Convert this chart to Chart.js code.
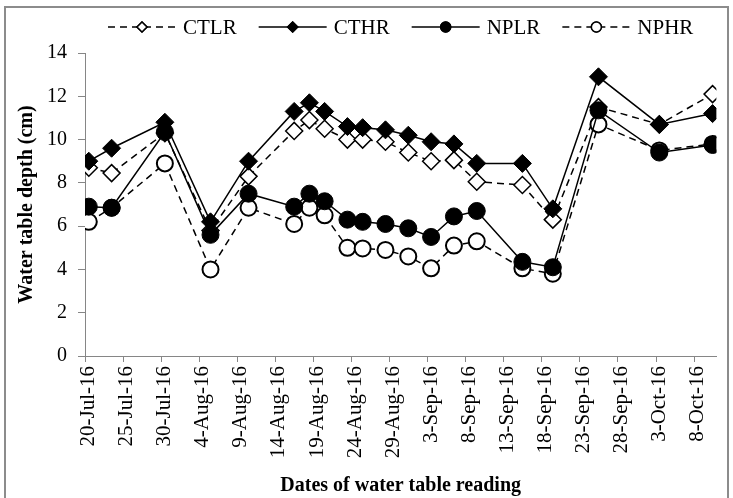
<!DOCTYPE html>
<html>
<head>
<meta charset="utf-8">
<script src="https://cdn.jsdelivr.net/npm/chart.js@4.4.0/dist/chart.umd.min.js"></script>
<style>
  html, body { margin: 0; padding: 0; background: #fff; }
  #wrap { width: 733px; height: 498px; position: relative; }
</style>
</head>
<body>
<div id="wrap"><canvas id="chart"></canvas></div>
<script>
// reading dates, as days after 20-Jul-16
const readingDays = [0, 3, 10, 16, 21, 27, 29, 31, 34, 36, 39, 42, 45, 48, 51, 57, 61, 67, 75, 82];

const ctlr = [8.7, 8.45, 10.3, 5.8, 8.3, 10.4, 10.9, 10.5, 10.0, 10.0, 9.9, 9.4, 9.0, 9.05, 8.05, 7.9, 6.3, 11.5, 10.7, 12.1];
const cthr = [9.0, 9.6, 10.8, 6.2, 9.0, 11.3, 11.7, 11.3, 10.6, 10.55, 10.45, 10.2, 9.9, 9.8, 8.9, 8.9, 6.8, 12.9, 10.7, 11.2];
const nplr = [6.9, 6.85, 10.35, 5.6, 7.5, 6.9, 7.5, 7.15, 6.3, 6.2, 6.1, 5.9, 5.5, 6.45, 6.7, 4.35, 4.1, 11.35, 9.4, 9.75];
const nphr = [6.2, 6.85, 8.9, 4.0, 6.85, 6.1, 6.85, 6.5, 5.0, 4.97, 4.9, 4.6, 4.05, 5.1, 5.3, 4.05, 3.8, 10.7, 9.5, 9.8];

const tickDays = [0, 5, 10, 15, 20, 25, 30, 35, 40, 45, 50, 55, 60, 65, 70, 75, 80];
const tickLabels = ['20-Jul-16', '25-Jul-16', '30-Jul-16', '4-Aug-16', '9-Aug-16', '14-Aug-16', '19-Aug-16',
  '24-Aug-16', '29-Aug-16', '3-Sep-16', '8-Sep-16', '13-Sep-16', '18-Sep-16', '23-Sep-16', '28-Sep-16',
  '3-Oct-16', '8-Oct-16'];

const FONT = "'Liberation Serif', 'Times New Roman', serif";
const AXIS_GREY = '#868686';

const toPoints = vals => vals.map((v, i) => ({ x: readingDays[i], y: v }));

// legend drawn by hand so it can show the line + marker like the original
const legendPlugin = {
  id: 'lineLegend',
  afterDraw(chart) {
    const ctx = chart.ctx;
    const lineLen = 68, gap = 7, itemGap = 22, y = 27;
    ctx.save();
    ctx.font = '21px ' + FONT;
    const sets = chart.data.datasets;
    const widths = sets.map(ds => ctx.measureText(ds.label).width);
    let total = widths.reduce((a, b) => a + b, 0) + sets.length * (lineLen + gap) + (sets.length - 1) * itemGap;
    let x = (chart.chartArea.left + chart.chartArea.right) / 2 - total / 2;
    sets.forEach((ds, i) => {
      ctx.strokeStyle = '#000';
      ctx.lineWidth = ds.borderWidth;
      ctx.setLineDash(ds.borderDash || []);
      ctx.beginPath();
      ctx.moveTo(x, y);
      ctx.lineTo(x + lineLen, y);
      ctx.stroke();
      ctx.setLineDash([]);
      ctx.fillStyle = ds.pointBackgroundColor;
      Chart.helpers.drawPoint(ctx, { pointStyle: ds.pointStyle, radius: 5, borderWidth: 1.5, rotation: 0 }, x + lineLen / 2, y);
      ctx.fill();
      ctx.stroke();
      ctx.fillStyle = '#000';
      ctx.textBaseline = 'middle';
      ctx.textAlign = 'left';
      ctx.fillText(ds.label, x + lineLen + gap, y + 1);
      x += lineLen + gap + widths[i] + itemGap;
    });
    ctx.restore();
  }
};

// x tick marks sit between the days, frame round the whole chart
const framePlugin = {
  id: 'frame',
  afterDraw(chart) {
    const ctx = chart.ctx;
    const xs = chart.scales.x;
    ctx.save();
    ctx.strokeStyle = AXIS_GREY;
    ctx.lineWidth = 1;
    tickDays.forEach(d => {
      const px = Math.round(xs.getPixelForValue(d - 0.5)) + 0.5;
      ctx.beginPath();
      ctx.moveTo(px, xs.top);
      ctx.lineTo(px, xs.top + 6);
      ctx.stroke();
    });
    ctx.strokeStyle = '#8c8c8c';
    ctx.lineWidth = 2;
    ctx.strokeRect(5, 7, 723, 500);
    ctx.restore();
  }
};

new Chart(document.getElementById('chart'), {
  type: 'line',
  data: {
    datasets: [
      { label: 'CTLR', data: toPoints(ctlr), order: 3, borderColor: '#000', borderWidth: 1.5, borderDash: [7, 5],
        pointStyle: 'rectRot', pointRadius: 8.5, pointBorderWidth: 1.5, pointBackgroundColor: '#fff', pointBorderColor: '#000' },
      { label: 'CTHR', data: toPoints(cthr), order: 1, borderColor: '#000', borderWidth: 1.5,
        pointStyle: 'rectRot', pointRadius: 9, pointBorderWidth: 1, pointBackgroundColor: '#000', pointBorderColor: '#000' },
      { label: 'NPLR', data: toPoints(nplr), order: 0, borderColor: '#000', borderWidth: 1.5,
        pointStyle: 'circle', pointRadius: 8.5, pointBorderWidth: 1, pointBackgroundColor: '#000', pointBorderColor: '#000' },
      { label: 'NPHR', data: toPoints(nphr), order: 2, borderColor: '#000', borderWidth: 1.5, borderDash: [7, 5],
        pointStyle: 'circle', pointRadius: 8, pointBorderWidth: 2, pointBackgroundColor: '#fff', pointBorderColor: '#000' }
    ]
  },
  options: {
    responsive: true,
    maintainAspectRatio: false,
    animation: false,
    layout: { padding: { left: 6, right: 15, top: 53, bottom: 0 } },
    plugins: {
      legend: { display: false },
      tooltip: { enabled: false }
    },
    scales: {
      x: {
        type: 'linear',
        min: -0.5,
        max: 82.5,
        afterBuildTicks: scale => { scale.ticks = tickDays.map(v => ({ value: v })); },
        afterFit: scale => { scale.height = 142; },
        grid: { display: false, drawTicks: false },
        border: { color: AXIS_GREY, width: 1 },
        ticks: {
          autoSkip: false, minRotation: 90, maxRotation: 90, padding: 10, color: '#000',
          font: { family: FONT, size: 21 },
          callback: v => tickLabels[tickDays.indexOf(v)]
        },
        title: {
          display: true, text: 'Dates of water table reading', color: '#000',
          font: { family: FONT, size: 20, weight: 'bold' }, padding: { top: 0, bottom: 0 }
        }
      },
      y: {
        min: 0,
        max: 14,
        afterFit: scale => { scale.width = 79; },
        grid: { drawOnChartArea: false, drawTicks: true, tickLength: 7, color: AXIS_GREY },
        border: { color: AXIS_GREY, width: 1 },
        ticks: { stepSize: 2, padding: 11, color: '#000', font: { family: FONT, size: 20 } },
        title: {
          display: true, text: 'Water table depth (cm)', color: '#000',
          font: { family: FONT, size: 20, weight: 'bold' }, padding: { top: 9, bottom: 0 }
        }
      }
    }
  },
  plugins: [legendPlugin, framePlugin]
});
</script>
</body>
</html>
